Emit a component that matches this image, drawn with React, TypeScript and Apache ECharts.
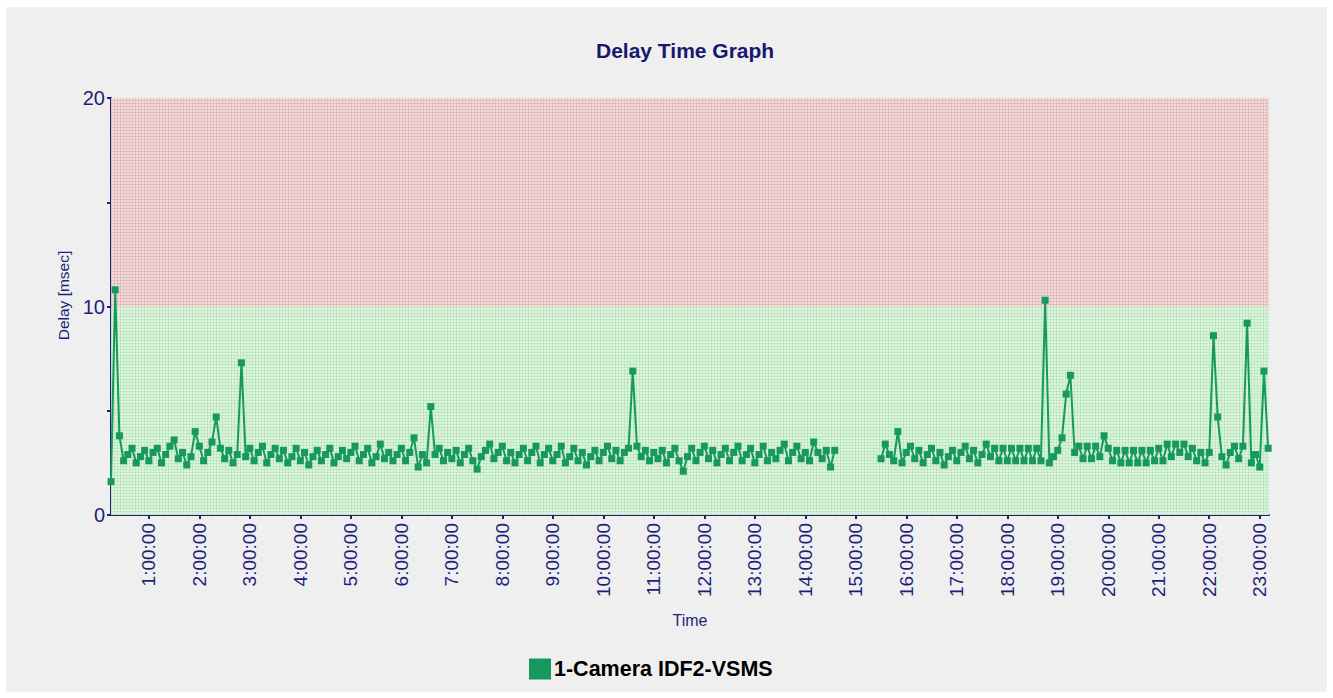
import React, { useEffect, useRef } from "react";
import * as echarts from "echarts";

// Delay samples (msec), one every 5 minutes, grouped by hour of day.
const firstSampleMinute = 15;
const sampleStepMinutes = 5;
const h00 = [1.6, 10.8, 3.8, 2.6, 2.9, 3.2, 2.5, 2.8, 3.1];
const h01 = [2.6, 3.0, 3.2, 2.5, 2.9, 3.3, 3.6, 2.7, 3.0, 2.4, 2.8, 4.0];
const h02 = [3.3, 2.6, 3.0, 3.5, 4.7, 3.2, 2.7, 3.1, 2.5, 2.9, 7.3, 2.8];
const h03 = [3.2, 2.6, 3.0, 3.3, 2.5, 2.9, 3.2, 2.7, 3.1, 2.5, 2.8, 3.2];
const h04 = [2.6, 3.0, 2.4, 2.8, 3.1, 2.6, 2.9, 3.2, 2.5, 2.8, 3.1, 2.7];
const h05 = [3.0, 3.3, 2.6, 2.9, 3.2, 2.5, 2.8, 3.4, 2.7, 3.0, 2.6, 2.9];
const h06 = [3.2, 2.6, 3.0, 3.7, 2.3, 2.9, 2.5, 5.2, 2.9, 3.2, 2.6, 3.0];
const h07 = [2.7, 3.1, 2.5, 2.9, 3.2, 2.6, 2.2, 2.8, 3.1, 3.4, 2.7, 3.0];
const h08 = [3.3, 2.6, 3.0, 2.5, 2.9, 3.2, 2.6, 3.0, 3.3, 2.5, 2.9, 3.2];
const h09 = [2.6, 2.9, 3.3, 2.5, 2.8, 3.2, 2.6, 3.0, 2.4, 2.8, 3.1, 2.6];
const h10 = [3.0, 3.3, 2.7, 3.1, 2.6, 3.0, 3.2, 6.9, 3.3, 2.8, 3.1, 2.6];
const h11 = [3.0, 2.7, 3.1, 2.5, 2.9, 3.2, 2.6, 2.1, 2.8, 3.2, 2.6, 3.0];
const h12 = [3.3, 2.7, 3.1, 2.5, 2.9, 3.2, 2.6, 3.0, 3.3, 2.6, 2.9, 3.2];
const h13 = [2.5, 2.9, 3.3, 2.6, 3.0, 2.7, 3.1, 3.4, 2.6, 3.0, 3.3, 2.7];
const h14 = [3.0, 2.6, 3.5, 3.0, 2.7, 3.1, 2.3, 3.1, null, null, null, null];
const h15 = [null, null, null, null, null, null, 2.7, 3.4, 2.9, 2.6, 4.0, 2.5];
const h16 = [3.0, 3.3, 2.7, 3.1, 2.5, 2.9, 3.2, 2.6, 3.0, 2.4, 2.8, 3.1];
const h17 = [2.6, 3.0, 3.3, 2.7, 3.1, 2.5, 2.9, 3.4, 2.8, 3.2, 2.6, 3.2];
const h18 = [2.6, 3.2, 2.6, 3.2, 2.6, 3.2, 2.6, 3.2, 2.6, 10.3, 2.5, 2.8];
const h19 = [3.1, 3.7, 5.8, 6.7, 3.0, 3.3, 2.7, 3.3, 2.7, 3.3, 2.8, 3.8];
const h20 = [3.2, 2.6, 3.1, 2.5, 3.1, 2.5, 3.1, 2.5, 3.1, 2.5, 3.1, 2.6];
const h21 = [3.2, 2.6, 3.4, 2.8, 3.4, 3.0, 3.4, 2.8, 3.2, 2.6, 3.0, 2.5];
const h22 = [3.0, 8.6, 4.7, 2.8, 2.4, 3.0, 3.3, 2.7, 3.3, 9.2, 2.5, 2.9];
const h23 = [2.3, 6.9, 3.2];

const hourTickMinutes = [
  60, 120, 180, 240, 300, 360, 420, 480, 540, 600, 660, 720, 780, 840, 900,
  960, 1020, 1080, 1140, 1200, 1260, 1320, 1380,
];
const axisMinMinute = 15;
const axisMaxMinute = 1391;
const seriesName = "1-Camera IDF2-VSMS";

const allDelays = [
  ...h00, ...h01, ...h02, ...h03, ...h04, ...h05, ...h06, ...h07,
  ...h08, ...h09, ...h10, ...h11, ...h12, ...h13, ...h14, ...h15,
  ...h16, ...h17, ...h18, ...h19, ...h20, ...h21, ...h22, ...h23,
];

const NAVY = "#1f1f7a";
const GREEN = "#17995e";

function tileUrl(c00: string, c01: string, c11: string) {
  const svg =
    `<svg xmlns="http://www.w3.org/2000/svg" width="3" height="3" shape-rendering="crispEdges">` +
    `<rect width="3" height="3" fill="${c11}"/>` +
    `<rect width="3" height="1" fill="${c01}"/>` +
    `<rect width="1" height="3" fill="${c01}"/>` +
    `<rect width="1" height="1" fill="${c00}"/>` +
    `</svg>`;
  return "data:image/svg+xml;charset=utf-8," + encodeURIComponent(svg);
}

export default function App() {
  const ref = useRef<HTMLDivElement>(null);

  useEffect(() => {
    if (!ref.current) return;
    const chart = echarts.init(ref.current, undefined, { renderer: "svg" });

    const data = allDelays.map((v, i) => [
      firstSampleMinute + i * sampleStepMinutes,
      v === null ? "-" : v,
    ]);

    const pinkImg = new Image();
    pinkImg.src = tileUrl("#dcaeb1", "#e7c4c6", "#f1d9da");
    const greenImg = new Image();
    greenImg.src = tileUrl("#b2dfb4", "#c6eac7", "#dbf4dc");

    const font = 'Arial, "Liberation Sans", sans-serif';

    chart.setOption({
      animation: false,
      backgroundColor: "transparent",
      title: {
        text: "Delay Time Graph",
        left: 585,
        top: 28,
        textStyle: { color: "#17176e", fontSize: 21, fontWeight: "bold", fontFamily: font },
      },
      legend: {
        left: 518,
        top: 646,
        itemWidth: 22,
        itemHeight: 21,
        itemGap: 10,
        icon: "rect",
        data: [seriesName],
        textStyle: { color: "#000", fontSize: 21.5, fontWeight: "bold", fontFamily: font, padding: [0, 0, 0, -2] },
      },
      grid: { left: 105, top: 91, width: 1158, height: 417, containLabel: false },
      xAxis: {
        type: "value",
        min: axisMinMinute,
        max: axisMaxMinute,
        name: "Time",
        nameLocation: "middle",
        nameGap: 97,
        nameTextStyle: { color: NAVY, fontSize: 16, fontFamily: font },
        axisLine: { show: true, onZero: false, lineStyle: { color: NAVY, width: 2 } },
        axisTick: { show: true, length: 4, customValues: hourTickMinutes, lineStyle: { color: NAVY, width: 2 } },
        axisLabel: {
          customValues: hourTickMinutes,
          rotate: 90,
          margin: 8,
          color: NAVY,
          fontSize: 19,
          fontFamily: font,
          formatter: (v: number) => `${Math.round(v / 60)}:00:00`,
        },
        splitLine: { show: false },
      },
      yAxis: {
        type: "value",
        min: 0,
        max: 20,
        interval: 5,
        name: "Delay [msec]",
        nameLocation: "middle",
        nameGap: 36,
        nameTextStyle: { color: NAVY, fontSize: 15.5, fontFamily: font, padding: [0, 0, 0, 22] },
        axisLine: { show: true, lineStyle: { color: NAVY, width: 2 } },
        axisTick: { show: true, length: 4, lineStyle: { color: NAVY, width: 2 } },
        axisLabel: {
          color: NAVY,
          fontSize: 20,
          fontFamily: font,
          margin: 6,
          formatter: (v: number) => (v % 10 === 0 ? String(v) : ""),
        },
        splitLine: { show: false },
      },
      series: [
        {
          name: seriesName,
          type: "line",
          data,
          connectNulls: false,
          symbol: "rect",
          symbolSize: 7,
          showSymbol: true,
          color: GREEN,
          itemStyle: { color: GREEN },
          lineStyle: { color: GREEN, width: 2 },
          markArea: {
            silent: true,
            data: [
              [
                { yAxis: 0, itemStyle: { color: { image: greenImg, repeat: "repeat" } } },
                { yAxis: 10 },
              ],
              [
                { yAxis: 10, itemStyle: { color: { image: pinkImg, repeat: "repeat" } } },
                { yAxis: 20 },
              ],
            ],
          },
        },
      ],
    });

    return () => chart.dispose();
  }, []);

  return (
    <div style={{ position: "fixed", left: 0, top: 0, width: 1333, height: 698, background: "#ffffff" }}>
      <div
        ref={ref}
        style={{ position: "absolute", left: 6, top: 7, width: 1321, height: 685, background: "#efefef" }}
      />
    </div>
  );
}
